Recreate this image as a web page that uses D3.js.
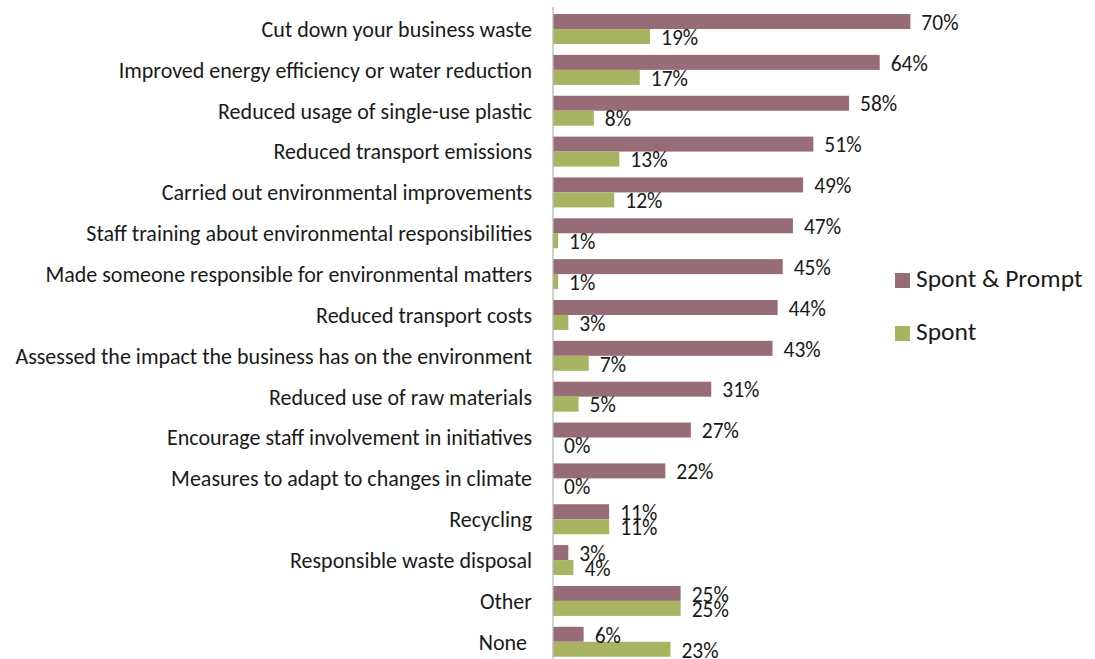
<!DOCTYPE html>
<html>
<head>
<meta charset="utf-8">
<script src="https://cdn.jsdelivr.net/npm/d3@7"></script>
<style>
  html, body { margin: 0; padding: 0; background: #fff; }
  svg text { font-family: Carlito, Lato, "Open Sans", sans-serif; fill: #1a1a1a; }
</style>
</head>
<body>
<svg id="chart" width="1095" height="659"></svg>
<script>
// Environmental actions taken by businesses (% of respondents)
const categories = [
  "Cut down your business waste",
  "Improved energy efficiency or water reduction",
  "Reduced usage of single-use plastic",
  "Reduced transport emissions",
  "Carried out environmental improvements",
  "Staff training about environmental responsibilities",
  "Made someone responsible for environmental matters",
  "Reduced transport costs",
  "Assessed the impact the business has on the environment",
  "Reduced use of raw materials",
  "Encourage staff involvement in initiatives",
  "Measures to adapt to changes in climate",
  "Recycling",
  "Responsible waste disposal",
  "Other",
  "None\u00A0"
];
const spontPrompt = [70, 64, 58, 51, 49, 47, 45, 44, 43, 31, 27, 22, 11, 3, 25, 6];
const spont       = [19, 17, 8, 13, 12, 1, 1, 3, 7, 5, 0, 0, 11, 4, 25, 23];
const seriesNames = ["Spont & Prompt", "Spont"];
const seriesColors = ["#986C76", "#A9B462"];

const rows = categories.map((c, i) => ({
  category: c,
  values: [spontPrompt[i], spont[i]]
}));

const svg = d3.select("#chart");
const x0 = 553;
const x = d3.scaleLinear().domain([0, 70]).range([x0, x0 + 70 * 5.105]);
const y = d3.scaleBand().domain(categories).range([8.6, 8.6 + 16 * 40.85]).paddingInner(0.266).paddingOuter(0.133);
const sub = d3.scaleBand().domain([0, 1]).range([0, y.bandwidth()]);

const valSize = 21.5;
const groups = svg.append("g").selectAll("g")
  .data(rows).join("g")
  .attr("transform", d => `translate(0,${y(d.category)})`);

groups.selectAll("rect")
  .data(d => d.values.map((v, j) => ({ v, j })))
  .join("rect")
  .attr("x", x0)
  .attr("y", d => sub(d.j))
  .attr("width", d => x(d.v) - x0)
  .attr("height", sub.bandwidth())
  .attr("fill", d => seriesColors[d.j]);

groups.selectAll("text.val")
  .data(d => d.values.map((v, j) => ({ v, j })))
  .join("text")
  .attr("class", "val")
  .attr("x", d => x(d.v) + 11)
  .attr("y", d => sub(d.j) + sub.bandwidth() / 2 + 0.36 * valSize + 0.5)
  .style("font-size", valSize + "px")
  .text(d => d.v + "%");

// Category axis
const catSize = 22;
const yAxis = d3.axisLeft(y).tickSize(0).tickPadding(21);
const ax = svg.append("g").attr("transform", `translate(${x0},0)`).call(yAxis);
ax.select(".domain").attr("stroke", "#b8b8b8").attr("stroke-width", 1.3)
  .attr("d", `M0,7V659`);
ax.selectAll(".tick text")
  .style("font-size", catSize + "px")
  .attr("fill", "#1a1a1a")
  .attr("font-family", null)
  .attr("dy", null)
  .attr("y", 0.36 * catSize);

// Legend
const legend = svg.append("g").attr("transform", "translate(895,273)");
seriesNames.forEach((name, i) => {
  const g = legend.append("g").attr("transform", `translate(0,${i * 53})`);
  g.append("rect").attr("width", 15).attr("height", 15).attr("fill", seriesColors[i]);
  g.append("text").attr("x", 21).attr("y", 14)
    .style("font-size", "25.5px").text(name);
});
</script>
</body>
</html>
